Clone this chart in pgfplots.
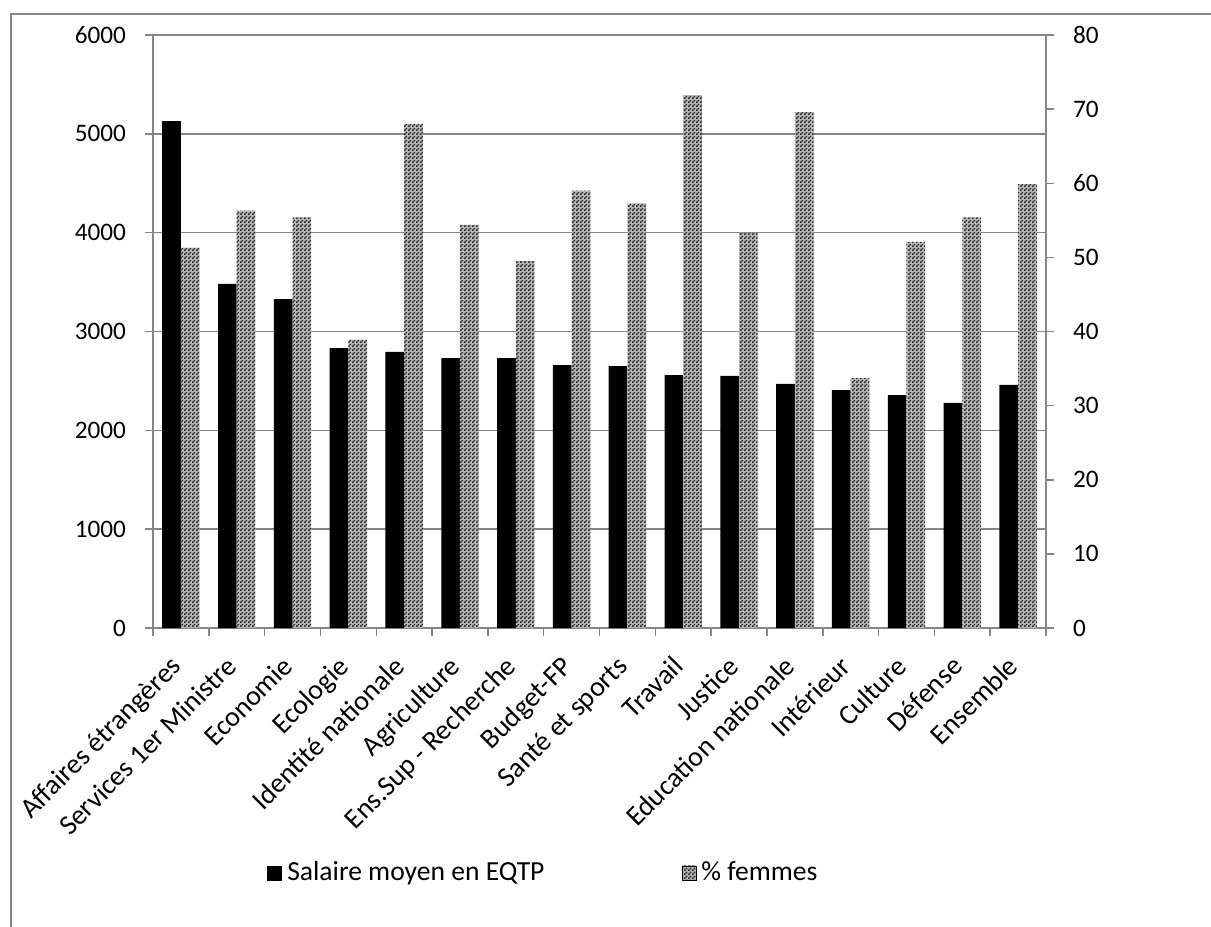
\documentclass[border=0pt]{standalone}
\usepackage{fontspec}
\setmainfont{Carlito}
\usepackage{pgfplots}
\usepackage{pgfplotstable}
\pgfplotsset{compat=1.18}
\usetikzlibrary{patterns}
\definecolor{axgray}{RGB}{134,134,134}
\pgfdeclarepatternformonly{checker}{\pgfqpoint{0pt}{0pt}}{\pgfqpoint{2pt}{2pt}}{\pgfqpoint{2pt}{2pt}}{%
  \pgfpathrectangle{\pgfqpoint{0pt}{0pt}}{\pgfqpoint{1pt}{1pt}}%
  \pgfpathrectangle{\pgfqpoint{1pt}{1pt}}{\pgfqpoint{1pt}{1pt}}%
  \pgfusepath{fill}}
\tikzset{patt/.style={fill=gray!55, postaction={pattern=checker, pattern color=black!85}}}

\pgfplotstableread{
x sal fem
0 5130 51.3
1 3481 56.3
2 3329 55.4
3 2833 38.9
4 2793 68.0
5 2732 54.4
6 2732 49.5
7 2661 59.0
8 2651 57.3
9 2560 71.9
10 2550 53.3
11 2469 69.6
12 2408 33.7
13 2357 52.1
14 2277 55.4
15 2459 59.9
}\data

\pgfplotsset{
  common/.style={
    at={(76.5pt,-314pt)}, anchor=south west,
    scale only axis, width=446.5pt, height=296.5pt,
    xmin=-0.5, xmax=15.5,
    ybar, bar width=9.35pt,
    font=\fontsize{12.6}{15}\selectfont,
    /pgf/number format/assume math mode=true,
    /pgf/number format/1000 sep={},
    axis line style={axgray, line width=0.75pt, -},
    tick style={axgray, line width=0.75pt},
    tick align=outside, major tick length=4pt, minor tick length=4pt,
  }
}

\begin{document}
\begin{tikzpicture}[x=1pt,y=1pt]
\useasboundingbox (0,0) rectangle (605.5,-463.5);
\draw[axgray, line width=0.75pt] (5.5,-480) -- (5.5,-7) -- (620,-7);

\begin{axis}[common,
  ymin=0, ymax=6000, ytick={0,1000,...,6000},
  axis x line*=bottom, axis y line*=left,
  ymajorgrids, grid style={axgray, line width=0.75pt},
  xtick={0,...,15},
  major x tick style={draw=none},
  minor xtick={-0.5,0.5,...,15.5},
  xticklabels={Affaires étrangères, Services 1er Ministre, Economie, Ecologie, Identité nationale, Agriculture, Ens.Sup - Recherche, Budget-FP, Santé et sports, Travail, Justice, Education nationale, Intérieur, Culture, Défense, Ensemble},
  xticklabel style={xshift=-6pt, yshift=-9pt, rotate=45, anchor=north east, inner sep=0pt, font=\fontsize{14}{16.8}\selectfont},
  yticklabel style={xshift=-6pt},
  legend columns=2,
  legend style={draw=none, fill=none, at={(0.121,-0.413)}, anchor=west,
    font=\fontsize{13.8}{16.5}\selectfont,
    nodes={inner sep=2.5pt},
    /tikz/every even column/.append style={column sep=66pt}},
]
\addplot[fill=black, draw=none, bar shift=-4.675pt, forget plot] table[x=x, y=sal] {\data};
\addlegendimage{legend image code/.code={\fill[black] (0pt,-3.5pt) rectangle (7pt,3.5pt);}}
\addlegendentry{Salaire moyen en EQTP}
\addlegendimage{legend image code/.code={\fill[patt] (0pt,-3.5pt) rectangle (7pt,3.5pt);}}
\addlegendentry{\% femmes}
\end{axis}

\begin{axis}[common,
  ymin=0, ymax=80, ytick={0,10,...,80},
  axis y line*=right, axis x line=none,
  yticklabel style={xshift=6pt},
]
\addplot[patt, draw=none, bar shift=4.675pt] table[x=x, y=fem] {\data};
\end{axis}
\end{tikzpicture}
\end{document}
